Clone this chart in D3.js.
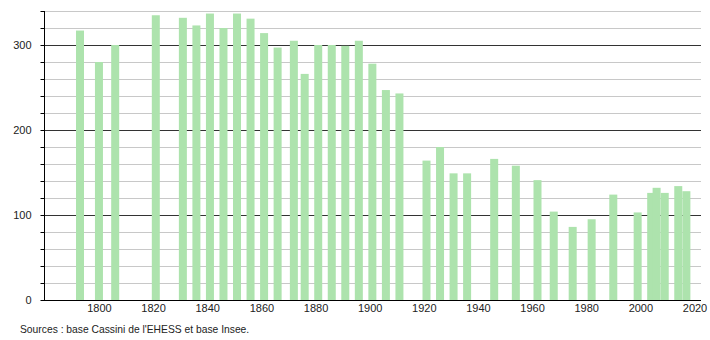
<!DOCTYPE html>
<meta charset="utf-8">
<style>
body { margin: 0; background: #fff; }
svg text { font-family: "Liberation Sans", Arial, sans-serif; font-size: 11px; fill: #222; }
.axis path, .axis line { stroke: #000; }
.grid-minor { stroke: #c8c8c8; }
.grid-major { stroke: #333; }
.bar { fill: #ade3ad; }
</style>
<svg width="710" height="340"></svg>
<script src="https://cdn.jsdelivr.net/npm/d3@7"></script>
<script>

var years = [1793, 1800, 1806, 1821, 1831, 1836, 1841, 1846, 1851, 1856,
             1861, 1866, 1872, 1876, 1881, 1886, 1891, 1896, 1901, 1906,
             1911, 1921, 1926, 1931, 1936, 1946, 1954, 1962, 1968, 1975,
             1982, 1990, 1999, 2004, 2006, 2009, 2014, 2017];
var population = [317, 280, 300, 335, 332, 323, 337, 320, 337, 331,
                  314, 297, 305, 266, 300, 300, 299, 305, 278, 247,
                  243, 164, 180, 149, 149, 166, 158, 141, 104, 86,
                  95, 124, 103, 126, 132, 126, 134, 128];
var xTicks = [1800, 1820, 1840, 1860, 1880, 1900, 1920, 1940, 1960, 1980, 2000, 2020];
var yLabels = [0, 100, 200, 300];
var source = "Sources : base Cassini de l'EHESS et base Insee.";

var svg = d3.select("svg");

var x = d3.scaleLinear().domain([1779.7, 2022.4]).range([44, 701]),
    y = d3.scaleLinear().domain([0, 340]).range([300, 11]);

var gridVals = d3.range(20, 341, 20);

svg.append("g")
  .selectAll("line")
  .data(gridVals)
  .enter().append("line")
    .attr("class", function(d) { return d % 100 === 0 ? "grid-major" : "grid-minor"; })
    .attr("x1", 44)
    .attr("x2", 701)
    .attr("y1", function(d) { return Math.round(y(d)) + 0.5; })
    .attr("y2", function(d) { return Math.round(y(d)) + 0.5; });

svg.append("g")
  .selectAll(".bar")
  .data(years)
  .enter().append("rect")
    .attr("class", "bar")
    .attr("x", function(d) { return x(d) - 4; })
    .attr("y", function(d, i) { return y(population[i]); })
    .attr("width", 8)
    .attr("height", function(d, i) { return 300 - y(population[i]); });

var yAxis = svg.append("g")
    .attr("class", "axis")
    .attr("transform", "translate(44.5,0)")
    .call(d3.axisLeft(y)
      .tickValues(d3.range(0, 341, 20))
      .tickSize(4)
      .tickPadding(9)
      .tickFormat(function(d) { return yLabels.indexOf(d) >= 0 ? d : ""; }));
yAxis.select(".domain").attr("d", "M0," + y(340) + "V300");
yAxis.selectAll("text").style("font-size", "11px").attr("fill", "#222");

var xAxis = svg.append("g")
    .attr("class", "axis")
    .attr("transform", "translate(0,300.5)")
    .call(d3.axisBottom(x)
      .tickValues(xTicks)
      .tickSize(0)
      .tickPadding(4)
      .tickFormat(d3.format("d")));
xAxis.select(".domain").attr("d", "M44,0H701");
xAxis.selectAll("text").style("font-size", "11px").attr("fill", "#222");

svg.append("text")
    .attr("x", 20)
    .attr("y", 333)
    .style("font-size", "10.3px")
    .text(source);

</script>
